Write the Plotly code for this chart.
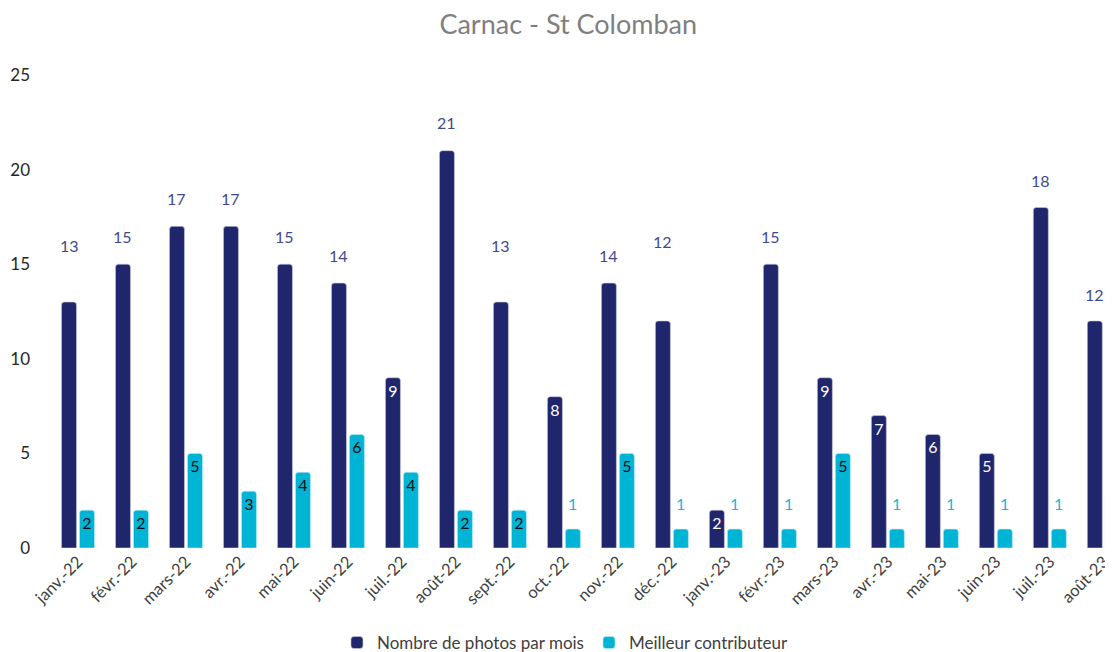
import plotly.graph_objects as go

months = ["janv.-22", "févr.-22", "mars-22", "avr.-22", "mai-22", "juin-22", "juil.-22",
          "août-22", "sept.-22", "oct.-22", "nov.-22", "déc.-22", "janv.-23", "févr.-23",
          "mars-23", "avr.-23", "mai-23", "juin-23", "juil.-23", "août-23"]
photos = [13, 15, 17, 17, 15, 14, 9, 21, 13, 8, 14, 12, 2, 15, 9, 7, 6, 5, 18, 12]
best = [2, 2, 5, 3, 4, 6, 4, 2, 2, 1, 5, 1, 1, 1, 5, 1, 1, 1, 1, 3]

# data-label placement (Excel-style): "in" = inside end, number = px lift above bar top
photo_label = [57, 28, 28, 28, 28, 28, "in", 28, 57, "in", 28, 79, "in", 28,
               "in", "in", "in", "in", 27, 26]
best_label = ["in", "in", "in", "in", "in", "in", "in", "in", "in", 26, "in", 26, 26, 26,
              "in", 26, 26, 26, 26, "in"]

NAVY = "#20266B"
CYAN = "#00B4D6"
NAVY_TXT = "#3F4A8E"
CYAN_TXT = "#1DB5D6"
FONT = "Lato"
LBL = 16

fig = go.Figure()
fig.add_trace(go.Bar(
    x=months, y=photos, name="Nombre de photos par mois",
    marker=dict(color=NAVY, cornerradius=3, line=dict(color="#C8CBE0", width=0.6)),
    text=[str(v) if p == "in" else "" for v, p in zip(photos, photo_label)],
    textposition="inside", textangle=0, insidetextanchor="end", constraintext="none",
    textfont=dict(family=FONT, size=LBL, color="white"),
))
fig.add_trace(go.Bar(
    x=months, y=best, name="Meilleur contributeur",
    marker=dict(color=CYAN, cornerradius=3, line=dict(color="#BDE9F3", width=0.6)),
    text=[str(v) if p == "in" else "" for v, p in zip(best, best_label)],
    textposition="inside", textangle=0, insidetextanchor="end", constraintext="none",
    textfont=dict(family=FONT, size=LBL, color="#111111"),
))

annotations = []
for m, v, p in zip(months, photos, photo_label):
    if p != "in":
        annotations.append(dict(x=m, y=v, xref="x", yref="y", text=str(v), showarrow=False,
                                xshift=-9, yshift=p, yanchor="middle",
                                font=dict(family=FONT, size=LBL, color=NAVY_TXT)))
for m, v, p in zip(months, best, best_label):
    if p != "in":
        annotations.append(dict(x=m, y=v, xref="x", yref="y", text=str(v), showarrow=False,
                                xshift=9, yshift=p, yanchor="middle",
                                font=dict(family=FONT, size=LBL, color=CYAN_TXT)))

# page body has an 8px margin, so the figure is sized to fit the remaining viewport
fig.update_layout(
    width=1105, height=644,
    paper_bgcolor="white", plot_bgcolor="white",
    margin=dict(l=43, r=0, t=67, b=104, autoexpand=False),
    barmode="group", bargap=0.333, bargroupgap=0.167,
    font=dict(family=FONT, color="#404040"),
    title=dict(text="Carnac - St Colomban", xref="container", x=0.507, xanchor="center",
               yref="container", y=0.975, yanchor="middle",
               font=dict(family=FONT, size=27, color="#7F7F7F")),
    showlegend=True,
    legend=dict(orientation="h", xref="container", x=0.5045, xanchor="center",
                yref="container", y=0.014, yanchor="middle",
                font=dict(family=FONT, size=17, color="#404040"),
                itemwidth=30, traceorder="normal"),
    annotations=annotations,
)
fig.update_xaxes(range=[-0.5, 19.17], tickangle=-45, showline=False, showgrid=False,
                 automargin=False, ticks="",
                 tickfont=dict(family=FONT, size=16.5, color="#404040"))
fig.update_yaxes(range=[0, 25], dtick=5, showgrid=False, zeroline=False, showline=False,
                 automargin=False, ticks="", ticklabelstandoff=20,
                 tickfont=dict(family=FONT, size=17, color="#262626"))

fig.write_html("out.html")
